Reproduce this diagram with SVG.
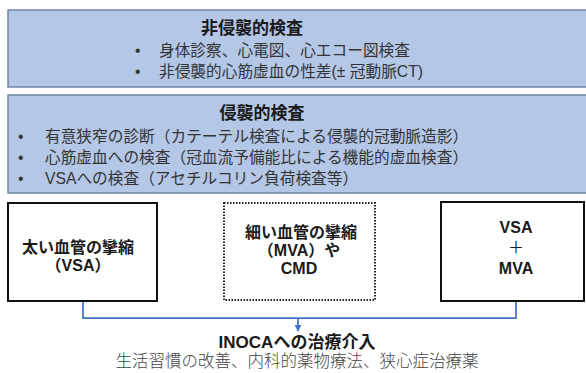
<svg xmlns="http://www.w3.org/2000/svg" width="586" height="373" viewBox="0 0 586 373">
<style>
text{font-family:"Liberation Sans","Noto Sans CJK JP",sans-serif;fill:#262626}
.panel{fill:#b4c7e7;stroke:#6f87ab;stroke-width:1.5}
.box{fill:#fff;stroke:#111;stroke-width:2}
.dot{fill:#fff;stroke:#222;stroke-width:2;stroke-dasharray:1.5 1.5}
.t{font-size:17px;font-weight:bold;text-anchor:middle;fill:#1a1a1a}
.b{font-size:15.7px;fill:#333}
.n{font-size:16px;font-weight:bold;text-anchor:middle;fill:#1a1a1a}
.conn{fill:none;stroke:#4472c4;stroke-width:1.75}
</style>
<defs>
<marker id="ah" viewBox="0 0 10 10" refX="9" refY="5" markerWidth="4" markerHeight="4" orient="auto">
<path d="M0,0 L10,5 L0,10 z" fill="#4472c4"/>
</marker>
</defs>
<g id="noninvasive">
<rect class="panel" x="8" y="10" width="590" height="77"/>
<text class="t" x="252" y="34">非侵襲的検査</text>
<text class="b" x="135" y="55.5">•</text>
<text class="b" x="159" y="55.5">身体診察、心電図、心エコー図検査</text>
<text class="b" x="135" y="77">•</text>
<text class="b" x="159" y="77">非侵襲的心筋虚血の性差(± 冠動脈CT)</text>
</g>
<g id="invasive">
<rect class="panel" x="8" y="95" width="590" height="98"/>
<text class="t" x="262" y="119">侵襲的検査</text>
<text class="b" x="18" y="142">•</text>
<text class="b" x="45" y="142">有意狭窄の診断（カテーテル検査による侵襲的冠動脈造影）</text>
<text class="b" x="18" y="163">•</text>
<text class="b" x="45" y="163">心筋虚血への検査（冠血流予備能比による機能的虚血検査）</text>
<text class="b" x="18" y="184">•</text>
<text class="b" x="45" y="184">VSAへの検査（アセチルコリン負荷検査等）</text>
</g>
<g id="vsa">
<rect class="box" x="8" y="203" width="149" height="98"/>
<text class="n" x="78" y="252.5">太い血管の攣縮</text>
<text class="n" x="78" y="270.5">（VSA）</text>
</g>
<g id="mva">
<rect class="dot" x="224" y="203" width="151" height="97"/>
<text class="n" x="301" y="237.5">細い血管の攣縮</text>
<text class="n" x="299" y="255.5">（MVA）や</text>
<text class="n" x="299" y="273.5">CMD</text>
</g>
<g id="vsamva">
<rect class="box" x="441" y="202" width="143" height="99"/>
<text class="n" x="516" y="233">VSA</text>
<text class="n" x="516" y="253" style="font-weight:normal">＋</text>
<text class="n" x="516" y="274">MVA</text>
</g>
<g id="connectors">
<path class="conn" d="M83,302 V318 H516 V302"/>
<path class="conn" d="M298,318 V331" marker-end="url(#ah)"/>
</g>
<g id="treatment">
<text class="t" x="297" y="348">INOCAへの治療介入</text>
<text x="297" y="367" style="font-size:16.5px;font-weight:300;text-anchor:middle;fill:#444">生活習慣の改善、内科的薬物療法、狭心症治療薬</text>
</g>
</svg>
